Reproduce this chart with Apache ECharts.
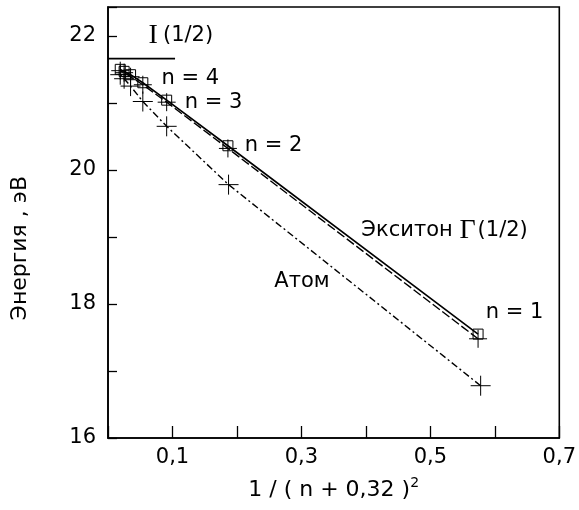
<!DOCTYPE html>
<html>
<head>
<meta charset="utf-8">
<script src="https://cdn.jsdelivr.net/npm/echarts@6/dist/echarts.min.js"></script>
<style>html,body{margin:0;padding:0;background:#fff;}#c{width:579px;height:510px;}</style>
</head>
<body>
<div id="c"></div>
<script>
// Data
var excitonX      = [0.574, 0.186, 0.091, 0.054, 0.035, 0.025, 0.019];
var excitonSolidE = [17.55, 20.36, 21.04, 21.30, 21.42, 21.47, 21.50];
var excitonDashE  = [17.48, 20.32, 21.01, 21.27, 21.39, 21.45, 21.48];
var atomX         = [0.578, 0.187, 0.091, 0.054, 0.035, 0.025, 0.019];
var atomE         = [16.78, 19.78, 20.65, 21.02, 21.25, 21.36, 21.42];
var limitX        = [0, 0.104];
var limitE        = [21.66, 21.66];
var xTickLabels   = ['0,1', '0,3', '0,5', '0,7'];
var yTickLabels   = ['16', '18', '20', '22'];
var annotations = [
  [0.063, 22.0, '{s|I}{t|(1/2)}'],
  [0.083, 21.37, 'n = 4'],
  [0.119, 21.0, 'n = 3'],
  [0.212, 20.37, 'n = 2'],
  [0.586, 17.87, 'n = 1'],
  [0.393, 19.10, 'Экситон {g|Г}{t|(1/2)}'],
  [0.258, 18.33, 'Атом']
];

function pairs(xs, ys) { return xs.map(function (x, i) { return [x, ys[i]]; }); }

var plusPath = 'path://M0,10 L20,10 M10,0 L10,20';
var FONT = 'DejaVu Sans, Liberation Sans, Arial, sans-serif';
var SERIF = 'Liberation Serif, Times New Roman, serif';

var chart = echarts.init(document.getElementById('c'), null, {renderer: 'canvas'});
chart.setOption({
  animation: false,
  backgroundColor: '#fff',
  grid: {left: 108, right: 18, top: 7, bottom: 72, show: true, borderColor: '#000', borderWidth: 1.6},
  xAxis: {
    type: 'value', min: 0, max: 0.7, interval: 0.1,
    axisLine: {lineStyle: {color: '#000', width: 1.6}},
    axisTick: {inside: true, length: 12, lineStyle: {color: '#000', width: 1.3}},
    splitLine: {show: false},
    axisLabel: {
      color: '#000', fontSize: 21, fontFamily: FONT, margin: 9,
      formatter: function (v) {
        var s = (Math.round(v * 10) / 10).toFixed(1).replace('.', ',');
        return xTickLabels.indexOf(s) >= 0 ? s : '';
      }
    },
    name: '1 / ( n + 0,32 ){sup|2}',
    nameLocation: 'middle', nameGap: 38,
    nameTextStyle: {color: '#000', fontSize: 22, fontFamily: FONT,
      rich: {sup: {fontSize: 14, verticalAlign: 'top', padding: [0, 0, 14, 0], fontFamily: FONT, color: '#000'}}}
  },
  yAxis: {
    type: 'value', min: 16, max: 22.43, interval: 1,
    axisLine: {lineStyle: {color: '#000', width: 1.6}},
    axisTick: {inside: true, length: 9, lineStyle: {color: '#000', width: 1.3}},
    splitLine: {show: false},
    axisLabel: {
      color: '#000', fontSize: 21, fontFamily: FONT, margin: 12,
      formatter: function (v) {
        var s = String(Math.round(v * 100) / 100);
        return yTickLabels.indexOf(s) >= 0 ? s : '';
      }
    }
  },
  graphic: [{
    type: 'text', left: 9, top: 176, rotation: Math.PI / 2,
    style: {text: 'Энергия , эВ', fill: '#000', font: '22px DejaVu Sans'}
  }],
  series: [
    {
      type: 'line', data: pairs(excitonX, excitonSolidE),
      lineStyle: {color: '#000', width: 1.6}, symbol: 'rect', symbolSize: 10,
      itemStyle: {color: 'rgba(0,0,0,0)', borderColor: '#000', borderWidth: 1}, z: 3
    },
    {
      type: 'line', data: pairs(excitonX, excitonDashE),
      lineStyle: {color: '#000', width: 1.4, type: [9, 3]}, symbol: plusPath, symbolSize: 18,
      itemStyle: {color: 'rgba(0,0,0,0)', borderColor: '#000', borderWidth: 1}, z: 3
    },
    {
      type: 'line', data: pairs(atomX, atomE),
      lineStyle: {color: '#000', width: 1.4, type: [7, 3, 2, 3]}, symbol: plusPath, symbolSize: 20,
      itemStyle: {color: 'rgba(0,0,0,0)', borderColor: '#000', borderWidth: 1}, z: 3
    },
    {
      type: 'line', data: pairs(limitX, limitE), symbol: 'none',
      lineStyle: {color: '#000', width: 1.6}
    },
    {
      type: 'scatter', symbolSize: 0, data: annotations, z: 5,
      itemStyle: {opacity: 1},
      label: {
        show: true, position: 'right', distance: 0, color: '#000', opacity: 1, fontSize: 21, fontFamily: FONT,
        formatter: function (p) { return p.value[2]; },
        rich: {
          s: {fontFamily: SERIF, fontSize: 28, color: '#000', padding: [0, 5, 0, 0]},
          g: {fontFamily: SERIF, fontSize: 28, color: '#000', padding: [0, 2, 0, 0]},
          t: {fontFamily: FONT, fontSize: 21, color: '#000'}
        }
      }
    }
  ]
});
</script>
</body>
</html>
